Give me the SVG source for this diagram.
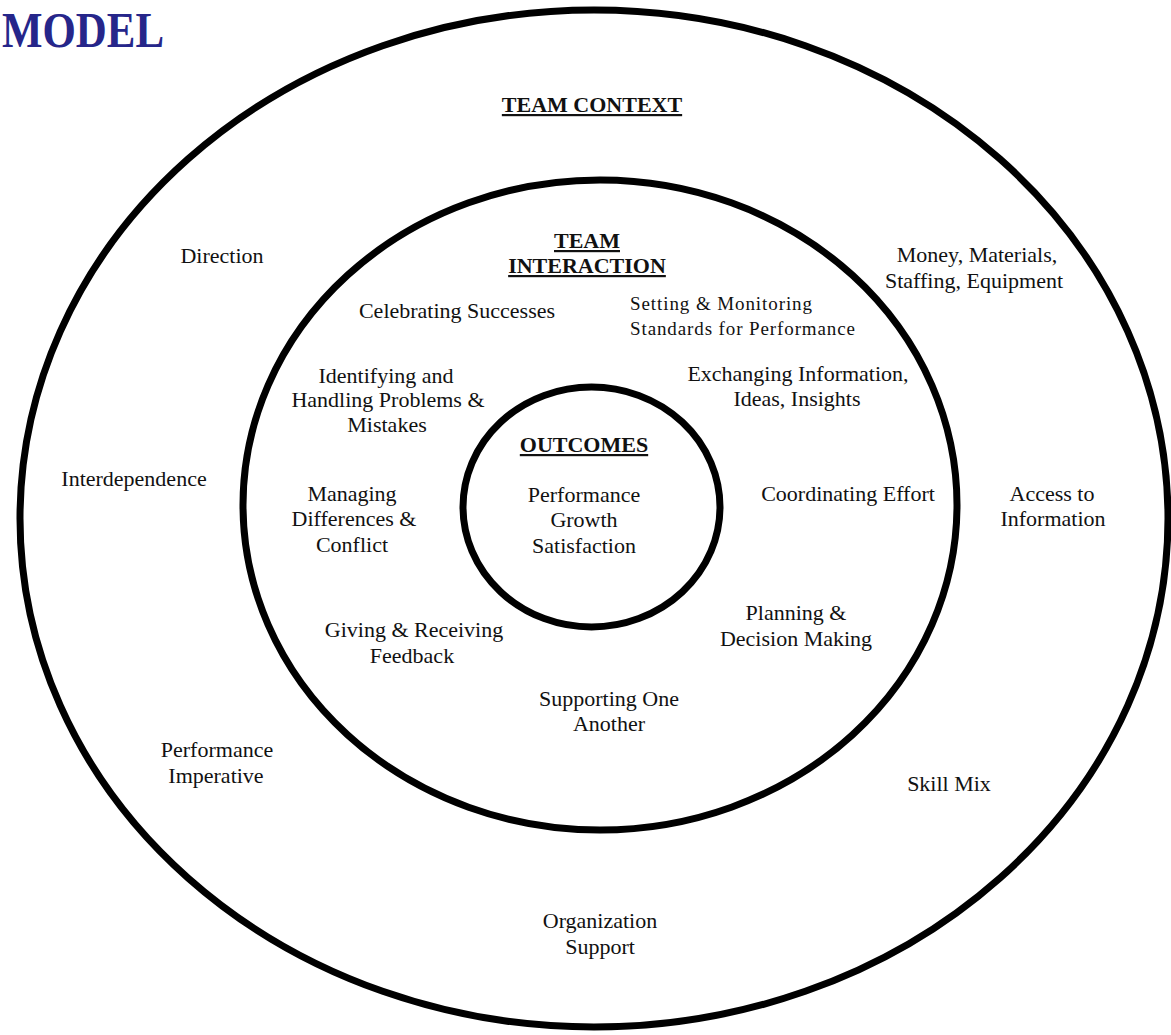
<svg xmlns="http://www.w3.org/2000/svg" width="1171" height="1035" viewBox="0 0 1171 1035">
<style>
.ring{fill:none;stroke:#000;stroke-width:7}
text{font-family:"Liberation Serif","Times New Roman",serif;fill:#111;font-size:22px;text-anchor:middle}
.h{font-weight:bold;text-decoration:underline}
.s{font-size:19px;text-anchor:start}
.title{font-weight:bold;font-size:51px;fill:#26268a;text-anchor:start}
</style>
<rect width="1171" height="1035" fill="#fff"/>
<text id="title" class="title" x="2" y="47" textLength="162" lengthAdjust="spacingAndGlyphs">MODEL</text>
<g id="team-context">
<ellipse class="ring" cx="594" cy="518.5" rx="574" ry="508.5"/>
<text class="h" x="592" y="112">TEAM CONTEXT</text>
<text x="222" y="263">Direction</text>
<text x="977" y="262">Money, Materials,</text>
<text x="974" y="288">Staffing, Equipment</text>
<text x="134" y="486">Interdependence</text>
<text x="1052" y="501">Access to</text>
<text x="1053" y="526">Information</text>
<text x="217" y="757">Performance</text>
<text x="216" y="783">Imperative</text>
<text x="949" y="791">Skill Mix</text>
<text x="600" y="928">Organization</text>
<text x="600" y="954">Support</text>
</g>
<g id="team-interaction">
<ellipse class="ring" cx="600" cy="505" rx="357" ry="325"/>
<text class="h" x="587" y="248">TEAM</text>
<text class="h" x="587" y="273">INTERACTION</text>
<text x="457" y="318">Celebrating Successes</text>
<text class="s" x="630" y="310" textLength="182" lengthAdjust="spacing">Setting &amp; Monitoring</text>
<text class="s" x="630" y="335" textLength="225" lengthAdjust="spacing">Standards for Performance</text>
<text x="386" y="383">Identifying and</text>
<text x="388" y="407">Handling Problems &amp;</text>
<text x="387" y="432">Mistakes</text>
<text x="798" y="381">Exchanging Information,</text>
<text x="797" y="406">Ideas, Insights</text>
<text x="352" y="501">Managing</text>
<text x="354" y="526">Differences &amp;</text>
<text x="352" y="552">Conflict</text>
<text x="848" y="501">Coordinating Effort</text>
<text x="796" y="620">Planning &amp;</text>
<text x="796" y="646">Decision Making</text>
<text x="414" y="637">Giving &amp; Receiving</text>
<text x="412" y="663">Feedback</text>
<text x="609" y="706">Supporting One</text>
<text x="609" y="731">Another</text>
</g>
<g id="outcomes">
<ellipse class="ring" cx="591.5" cy="507" rx="128.5" ry="120"/>
<text class="h" x="584" y="452">OUTCOMES</text>
<text x="584" y="502">Performance</text>
<text x="584" y="527">Growth</text>
<text x="584" y="553">Satisfaction</text>
</g>
<g id="connectors"/>
</svg>
